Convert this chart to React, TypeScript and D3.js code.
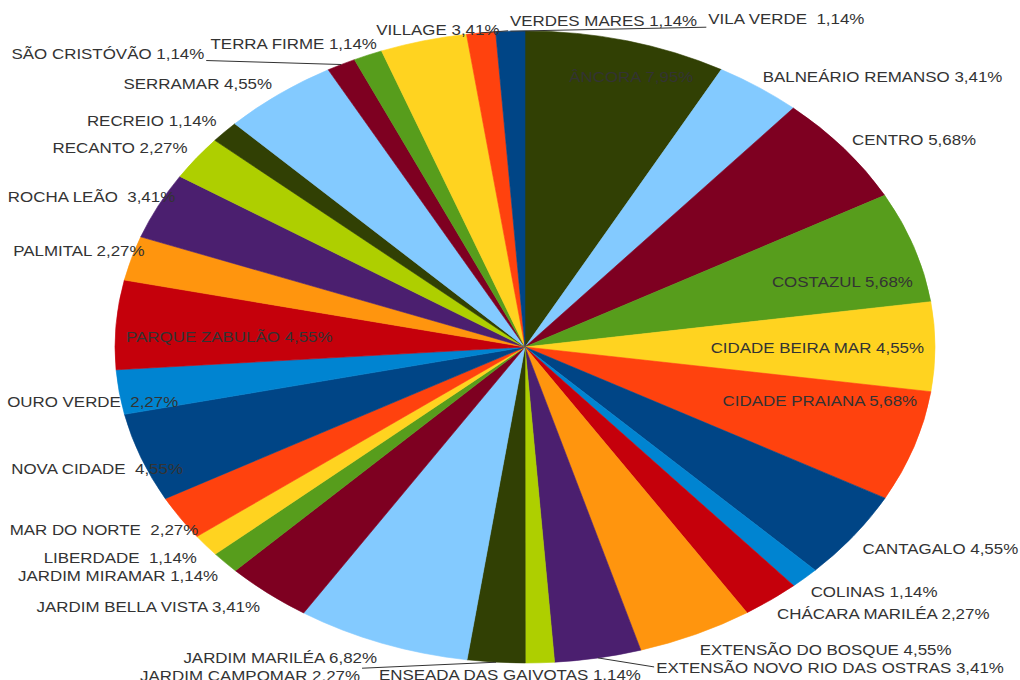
import React from "react";
import * as d3 from "d3";

const names = [
  "ÂNCORA", "BALNEÁRIO REMANSO", "CENTRO", "COSTAZUL", "CIDADE BEIRA MAR", "CIDADE PRAIANA",
  "CANTAGALO", "COLINAS", "CHÁCARA MARILÉA", "EXTENSÃO DO BOSQUE", "EXTENSÃO NOVO RIO DAS OSTRAS",
  "ENSEADA DAS GAIVOTAS", "JARDIM CAMPOMAR", "JARDIM MARILÉA", "JARDIM BELLA VISTA", "JARDIM MIRAMAR",
  "LIBERDADE", "MAR DO NORTE", "NOVA CIDADE", "OURO VERDE", "PARQUE ZABULÃO", "PALMITAL",
  "ROCHA LEÃO", "RECANTO", "RECREIO", "SERRAMAR", "SÃO CRISTÓVÃO", "TERRA FIRME", "VILLAGE",
  "VERDES MARES", "VILA VERDE",
];
const percents = [
  7.95, 3.41, 5.68, 5.68, 4.55, 5.68,
  4.55, 1.14, 2.27, 4.55, 3.41,
  1.14, 2.27, 6.82, 3.41, 1.14,
  1.14, 2.27, 4.55, 2.27, 4.55, 2.27,
  3.41, 2.27, 1.14, 4.55, 1.14, 1.14, 3.41,
  1.14, 1.14,
];
// names printed with a double space before the value
const doubleSpaced = ["ROCHA LEÃO", "NOVA CIDADE", "OURO VERDE", "MAR DO NORTE", "LIBERDADE", "VILA VERDE"];

const palette = ["#314004", "#83caff", "#7e0021", "#579d1c", "#ffd320", "#ff420e",
  "#004586", "#0084d1", "#c5000b", "#ff950e", "#4b1f6f", "#aecf00"];

// label placement: anchor, and nudge relative to the rim point at the slice's mid-angle
const labelAnchor = [
  "middle", "start", "start", "end", "end", "end",
  "start", "start", "start", "start", "start",
  "middle", "end", "end", "end", "end",
  "end", "end", "end", "end", "start", "end",
  "end", "end", "end", "end", "end", "end", "end",
  "start", "start",
];
const labelNudge: [number, number][] = [
  [5, 41], [4, -5], [8, -4], [-1, 40], [-11, 6], [3, -40],
  [9, 18], [6, 19], [6, 19], [4, 21], [58, 15],
  [-30, 17], [-136, 19], [-5, 20], [-8, 19], [-7, 18],
  [-9, 18], [18, 17], [42, 16], [59, 15], [10, 17], [13, -2],
  [17, -4], [-9, -5], [-8, -6], [-7, -5], [-137, -6], [9, -6], [76, -6],
  [29, -7], [198, -7],
];
// leader lines: slice index, vertical offset of the line end from the label baseline
const leaders: [number, number][] = [[10, -6], [12, -13], [26, 2], [29, 5], [30, 3]];

const W = 1020, H = 680;
const cx = 525, cy = 347, rx = 410, ry = 316;

export default function App() {
  const pie = d3.pie<number>().sort(null).value((d) => d)(percents);
  const arc = d3.arc<d3.PieArcDatum<number>>().innerRadius(0).outerRadius(rx);
  const rim = (a: number) => [cx + rx * Math.sin(a), cy - ry * Math.cos(a)];
  const fmt = (v: number) => v.toFixed(2).replace(".", ",") + "%";

  const labels = pie.map((p, i) => {
    const mid = (p.startAngle + p.endAngle) / 2;
    const [px, py] = rim(mid);
    const x = px + labelNudge[i][0];
    const y = py + labelNudge[i][1];
    const sep = doubleSpaced.includes(names[i]) ? "  " : " ";
    return { x, y, px, py, text: names[i] + sep + fmt(percents[i]), anchor: labelAnchor[i] };
  });

  return (
    <svg width={W} height={H} style={{ position: "absolute", left: 0, top: 0, background: "#fff" }}>
      <g transform={`translate(${cx},${cy}) scale(1,${ry / rx})`}>
        {pie.map((p, i) => (
          <path
            key={i}
            d={arc(p) || ""}
            fill={palette[i % palette.length]}
            stroke={palette[i % palette.length]}
            strokeWidth={0.6}
            vectorEffect="non-scaling-stroke"
          />
        ))}
      </g>
      {leaders.map(([i, dy]) => {
        const l = labels[i];
        const ex = l.anchor === "end" ? l.x + 2 : l.x - 2;
        return (
          <line key={"l" + i} x1={l.px} y1={l.py} x2={ex} y2={l.y + dy} stroke="#333" strokeWidth={1} />
        );
      })}
      {labels.map((l, i) => (
        <text
          key={"t" + i}
          transform={`translate(${l.x},${l.y}) scale(1.21,1)`}
          textAnchor={l.anchor}
          fontFamily="'Liberation Sans', Arial, sans-serif"
          fontSize={14}
          fill="#333"
          style={{ whiteSpace: "pre" }}
        >
          {l.text}
        </text>
      ))}
    </svg>
  );
}
